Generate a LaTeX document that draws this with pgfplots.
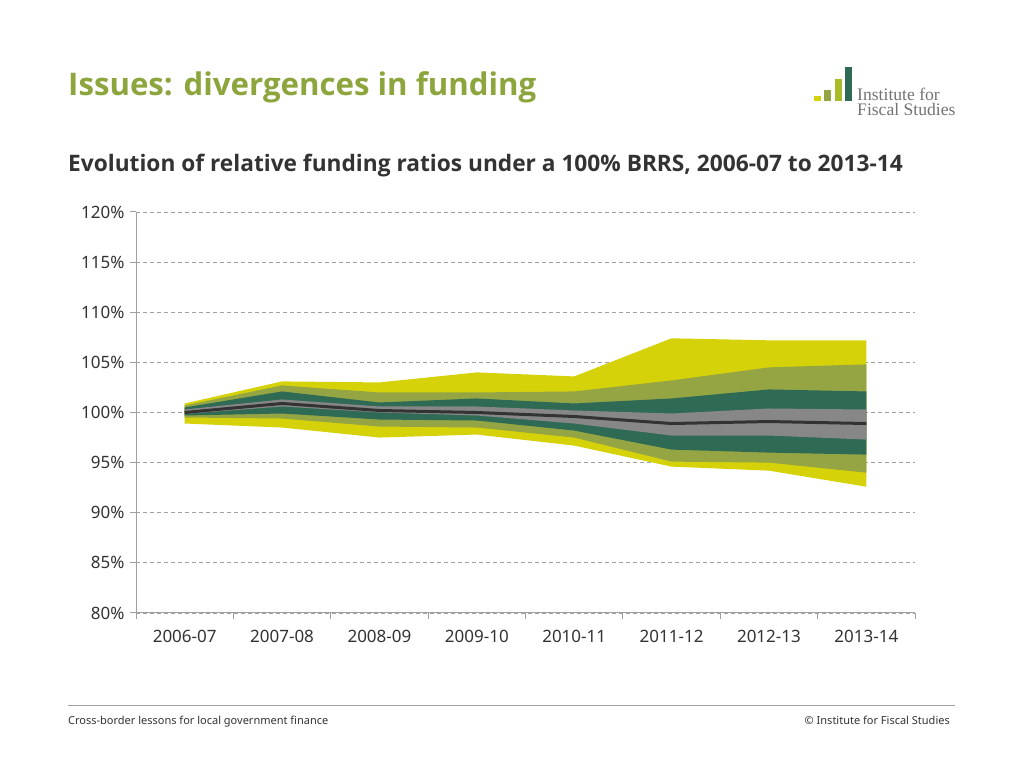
\documentclass[border=0pt]{standalone}
\usepackage{pgfplots}
\pgfplotsset{compat=1.18}
\usepackage{fontspec}
\setmainfont{Noto Sans}
\newfontfamily\headfont{Open Sans}
\newfontfamily\logofont{Liberation Serif}

\definecolor{ifsyellow}{HTML}{D6D20A}
\definecolor{ifsolive}{HTML}{95A544}
\definecolor{ifsgreen}{HTML}{2E6A54}
\definecolor{ifsgrey}{HTML}{878787}
\definecolor{ifslime}{HTML}{A9BA2A}
\definecolor{ifstitle}{HTML}{8CA53C}
\definecolor{ifstext}{HTML}{333333}
\definecolor{ifsaxis}{HTML}{A0A0A0}

\begin{document}
\begin{tikzpicture}
\fill[white] (0pt,0pt) rectangle (1024pt,768pt);

% headings
\node[anchor=base west, inner sep=0, text=ifstitle, font=\headfont\fontsize{31.2}{36}\selectfont\bfseries]
  at (68pt,672pt) {Issues: divergences in funding};
\node[anchor=base west, inner sep=0, text=ifstext, font=\headfont\fontsize{22.7}{26}\selectfont\bfseries]
  at (68pt,596pt) {Evolution of relative funding ratios under a 100\% BRRS, 2006-07 to 2013-14};

% logo
\fill[ifsyellow] (814pt,667pt) rectangle (821pt,672pt);
\fill[ifsolive]  (824pt,667pt) rectangle (831pt,678pt);
\fill[ifslime]   (835pt,667pt) rectangle (842pt,689pt);
\fill[ifsgreen]  (845pt,667pt) rectangle (852pt,701pt);
\node[anchor=base west, inner sep=0, align=left, text=ifsgrey!85!black, font=\logofont\fontsize{17.6}{15}\selectfont]
  at (857pt,652pt) {Institute for\\Fiscal Studies};

% footer
\draw[ifsaxis, line width=0.8pt] (68pt,63pt) -- (955pt,63pt);
\node[anchor=base west, inner sep=0, text=ifstext, font=\fontsize{11}{13}\selectfont]
  at (68pt,44pt) {Cross-border lessons for local government finance};
\node[anchor=base east, inner sep=0, text=ifstext, font=\fontsize{11}{13}\selectfont]
  at (950pt,44pt) {\textcopyright{} Institute for Fiscal Studies};

\begin{axis}[
    at={(136pt,155pt)}, anchor=south west,
    scale only axis,
    width=779pt, height=401pt,
    xmin=-0.5, xmax=7.5,
    ymin=80, ymax=120,
    xtick={0,...,7},
    xticklabels={2006-07,2007-08,2008-09,2009-10,2010-11,2011-12,2012-13,2013-14},
    minor xtick={-0.5,0.5,...,7.5},
    ytick={80,85,...,120},
    yticklabels={80\%,85\%,90\%,95\%,100\%,105\%,110\%,115\%,120\%},
    axis x line*=bottom, axis y line*=left,
    axis line style={-, draw=ifsaxis, line width=1pt},
    tick align=outside,
    major tick length=6pt, minor tick length=6pt,
    xtick style={draw=none},
    minor x tick style={draw=ifsaxis, line width=1pt},
    ytick style={draw=ifsaxis, line width=1pt},
    ymajorgrids,
    major grid style={draw=ifsaxis, dash pattern=on 4pt off 3pt, line width=0.9pt},
    ticklabel style={text=ifstext, font=\fontsize{17}{20}\selectfont},
    xticklabel style={yshift=-8pt},
    yticklabel style={xshift=-2pt},
]
% outer band: upper edge left to right, then lower edge right to left
\addplot[fill=ifsyellow, draw=none] coordinates {
  (0,100.9) (1,103.1) (2,103.0) (3,104.0) (4,103.6) (5,107.4) (6,107.2) (7,107.2)
  (7,92.6) (6,94.2) (5,94.6) (4,96.7) (3,97.8) (2,97.5) (1,98.5) (0,98.9)} -- cycle;
\addplot[fill=ifsolive, draw=none] coordinates {
  (0,100.7) (1,102.7) (2,102.0) (3,102.0) (4,102.1) (5,103.2) (6,104.5) (7,104.8)
  (7,94.0) (6,95.0) (5,95.1) (4,97.5) (3,98.5) (2,98.6) (1,99.4) (0,99.5)} -- cycle;
\addplot[fill=ifsgreen, draw=none] coordinates {
  (0,100.5) (1,102.1) (2,101.0) (3,101.4) (4,100.9) (5,101.4) (6,102.3) (7,102.1)
  (7,95.8) (6,96.0) (5,96.3) (4,98.2) (3,99.2) (2,99.3) (1,99.9) (0,99.7)} -- cycle;
\addplot[fill=ifsgrey, draw=none] coordinates {
  (0,100.3) (1,101.3) (2,100.6) (3,100.6) (4,100.2) (5,99.9) (6,100.4) (7,100.3)
  (7,97.3) (6,97.7) (5,97.7) (4,98.9) (3,99.7) (2,100.0) (1,100.6) (0,99.85)} -- cycle;
% median
\addplot[draw=ifstext, line width=3pt] coordinates {
  (0,100.0) (1,100.9) (2,100.2) (3,100.0) (4,99.6) (5,98.9) (6,99.1) (7,98.9)};
\end{axis}
\end{tikzpicture}
\end{document}
